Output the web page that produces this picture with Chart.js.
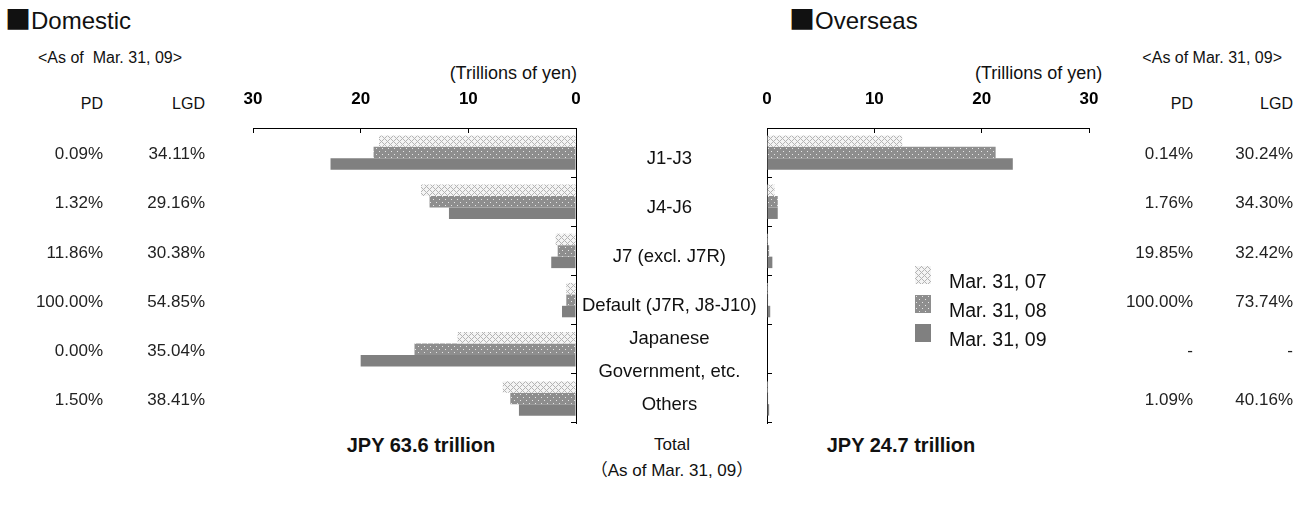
<!DOCTYPE html>
<html>
<head>
<meta charset="utf-8">
<script src="https://cdn.jsdelivr.net/npm/chart.js@4.4.0/dist/chart.umd.min.js"></script>
<style>
  body { margin: 0; background: #fff; width: 1309px; height: 515px; overflow: hidden; position: relative;
         font-family: 'Liberation Sans', 'Noto Sans CJK JP', sans-serif; color: #111; }
  .box { position: absolute; }
  .t { position: absolute; white-space: nowrap; line-height: 1; }
  .sq { font-family: 'Noto Sans CJK JP', sans-serif; font-size: 26px; }
  .legend-row { position: absolute; left: 915px; height: 19px; font-size: 19.5px; }
  .legend-row canvas { position: absolute; left: 0; top: 0; }
  .legend-row span { position: absolute; left: 34px; top: 4px; white-space: nowrap; }
</style>
</head>
<body>

<div class="t" style="left:5px;top:5px;font-size:24px;"><span class="sq">■</span>Domestic</div>
<div class="t" style="left:38px;top:50px;font-size:16px;">&lt;As of&nbsp; Mar. 31, 09&gt;</div>
<div class="t" style="left:0;width:103px;text-align:right;top:96px;font-size:16px;">PD</div>
<div class="t" style="left:0;width:205px;text-align:right;top:96px;font-size:16px;">LGD</div>
<div class="t" style="left:0;width:577px;text-align:right;top:64px;font-size:18px;">(Trillions of yen)</div>

<div class="t" style="left:789px;top:5px;font-size:24px;"><span class="sq">■</span>Overseas</div>
<div class="t" style="left:975px;top:64px;font-size:18px;">(Trillions of yen)</div>
<div class="t" style="left:0;width:1282px;text-align:right;top:50px;font-size:16px;">&lt;As of Mar. 31, 09&gt;</div>
<div class="t" style="left:0;width:1193px;text-align:right;top:96px;font-size:16px;">PD</div>
<div class="t" style="left:0;width:1293px;text-align:right;top:96px;font-size:16px;">LGD</div>

<div class="t" style="left:321px;width:200px;text-align:center;top:435px;font-size:20px;font-weight:bold;">JPY 63.6 trillion</div>
<div class="t" style="left:572px;width:200px;text-align:center;top:436px;font-size:17px;">Total</div>
<div class="t" style="left:572px;width:200px;text-align:center;top:462px;font-size:17px;">（As of Mar. 31, 09）</div>
<div class="t" style="left:801px;width:200px;text-align:center;top:435px;font-size:20px;font-weight:bold;">JPY 24.7 trillion</div>

<div class="box" style="left:0;top:0;width:766px;height:440px;"><canvas id="domestic"></canvas></div>
<div class="box" style="left:740px;top:0;width:569px;height:440px;"><canvas id="overseas"></canvas></div>

<div id="legend"></div>

<script>
var categories = ['J1-J3', 'J4-J6', 'J7 (excl. J7R)', 'Default (J7R, J8-J10)', ['Japanese', 'Government, etc.'], 'Others'];
var seriesNames = ['Mar. 31, 07', 'Mar. 31, 08', 'Mar. 31, 09'];

// trillions of yen
var domestic07 = [18.3, 14.4, 1.9, 0.9, 11.0, 6.8];
var domestic08 = [18.8, 13.6, 1.7, 0.9, 15.0, 6.1];
var domestic09 = [22.8, 11.8, 2.3, 1.3, 20.0, 5.3];
var overseas07 = [12.6, 0.7, 0.1, 0.1, 0, 0.1];
var overseas08 = [21.3, 1.0, 0.2, 0.1, 0, 0.1];
var overseas09 = [22.9, 1.0, 0.5, 0.3, 0, 0.2];

var domesticPD = ['0.09%', '1.32%', '11.86%', '100.00%', '0.00%', '1.50%'];
var domesticLGD = ['34.11%', '29.16%', '30.38%', '54.85%', '35.04%', '38.41%'];
var overseasPD = ['0.14%', '1.76%', '19.85%', '100.00%', '-', '1.09%'];
var overseasLGD = ['30.24%', '34.30%', '32.42%', '73.74%', '-', '40.16%'];

var xTicks = [0, 10, 20, 30];

var sans = "'Liberation Sans', Arial, sans-serif";

function makePattern(kind) {
  var c = document.createElement('canvas');
  c.width = 6; c.height = 6;
  var g = c.getContext('2d');
  if (kind == 0) {
    g.fillStyle = '#f4f4f4';
    g.fillRect(0, 0, 6, 6);
    g.fillStyle = '#b4b4b4';
    for (var i = 0; i < 6; i++) {
      for (var j = 0; j < 6; j++) {
        if ((i + j) % 6 == 0 || (i - j + 6) % 6 == 0) g.fillRect(i, j, 1, 1);
      }
    }
  } else {
    g.fillStyle = '#8e8e8e';
    g.fillRect(0, 0, 6, 6);
    g.fillStyle = '#e6e6e6';
    g.fillRect(1, 1, 1, 1);
    g.fillRect(4, 4, 1, 1);
  }
  return g.createPattern(c, 'repeat');
}

var fills = [makePattern(0), makePattern(1), '#808080'];

function datasets(a, b, c) {
  return [a, b, c].map(function(d, i) {
    return {
      label: seriesNames[i],
      data: d,
      backgroundColor: fills[i],
      borderWidth: 0,
      categoryPercentage: 0.7,
      barPercentage: 1.0
    };
  });
}

// fixed box sizes, no label overhang padding
function fixWidth(w) {
  return function(scale) { scale.width = w; scale.paddingTop = 0; scale.paddingBottom = 0; };
}

function valueAxis(reverse) {
  return {
    type: 'linear',
    position: 'top',
    reverse: reverse,
    min: 0,
    max: 30,
    afterBuildTicks: function(scale) {
      scale.ticks = xTicks.map(function(v) { return { value: v }; });
    },
    afterFit: function(scale) { scale.height = 48; scale.paddingLeft = 0; scale.paddingRight = 0; },
    grid: { drawOnChartArea: false, tickLength: -5, color: '#000', lineWidth: 1 },
    border: { color: '#000', width: 1 },
    ticks: { padding: 23, color: '#000', maxRotation: 0, font: { family: sans, size: 17, weight: 'bold' } }
  };
}

function textAxis(position, labels, weight, width, padding, align) {
  return {
    type: 'category',
    axis: 'y',
    position: position,
    labels: labels,
    offset: true,
    weight: weight,
    afterFit: fixWidth(width),
    grid: { display: false, drawTicks: false },
    border: { display: false },
    ticks: { padding: padding, crossAlign: align, autoSkip: false, labelOffset: 2, color: '#222',
             font: { family: sans, size: 17 } }
  };
}

Chart.defaults.animation = false;

new Chart(document.getElementById('domestic'), {
  type: 'bar',
  data: { labels: categories, datasets: datasets(domestic07, domestic08, domestic09) },
  options: {
    indexAxis: 'y',
    responsive: true,
    maintainAspectRatio: false,
    layout: { padding: { top: 80, bottom: 17, left: 0, right: 0 } },
    plugins: { legend: { display: false }, tooltip: { enabled: false } },
    scales: {
      x: valueAxis(true),
      y: {
        type: 'category',
        position: 'right',
        offset: true,
        afterFit: fixWidth(190),
        grid: { offset: true, drawOnChartArea: false, tickLength: -5, color: '#000' },
        border: { color: '#000', width: 1 },
        ticks: { padding: 11, crossAlign: 'center', autoSkip: false, labelOffset: 6, color: '#111',
                 font: { family: sans, size: 18.5, lineHeight: 1.8 } }
      },
      pd: textAxis('left', domesticPD, 2, 110, 7, 'near'),
      lgd: textAxis('left', domesticLGD, 1, 143, 48, 'near')
    }
  }
});

new Chart(document.getElementById('overseas'), {
  type: 'bar',
  data: { labels: categories, datasets: datasets(overseas07, overseas08, overseas09) },
  options: {
    indexAxis: 'y',
    responsive: true,
    maintainAspectRatio: false,
    layout: { padding: { top: 80, bottom: 17, left: 26, right: 16 } },
    plugins: { legend: { display: false }, tooltip: { enabled: false } },
    scales: {
      x: valueAxis(false),
      y: {
        type: 'category',
        position: 'left',
        offset: true,
        afterFit: fixWidth(1),
        grid: { offset: true, drawOnChartArea: false, tickLength: -5, color: '#000' },
        border: { color: '#000', width: 1 },
        ticks: { display: false }
      },
      pd: textAxis('right', overseasPD, 1, 104, 0, 'far'),
      lgd: textAxis('right', overseasLGD, 2, 100, 0, 'far')
    }
  }
});

// legend for the three dates
var legendTops = [266, 295, 324];
var legend = document.getElementById('legend');
seriesNames.forEach(function(name, i) {
  var row = document.createElement('div');
  row.className = 'legend-row';
  row.style.top = legendTops[i] + 'px';
  var sw = document.createElement('canvas');
  sw.width = 16; sw.height = 18;
  var g = sw.getContext('2d');
  g.fillStyle = fills[i];
  g.fillRect(0, 0, 16, 18);
  var txt = document.createElement('span');
  txt.textContent = name;
  row.appendChild(sw);
  row.appendChild(txt);
  legend.appendChild(row);
});
</script>
</body>
</html>
